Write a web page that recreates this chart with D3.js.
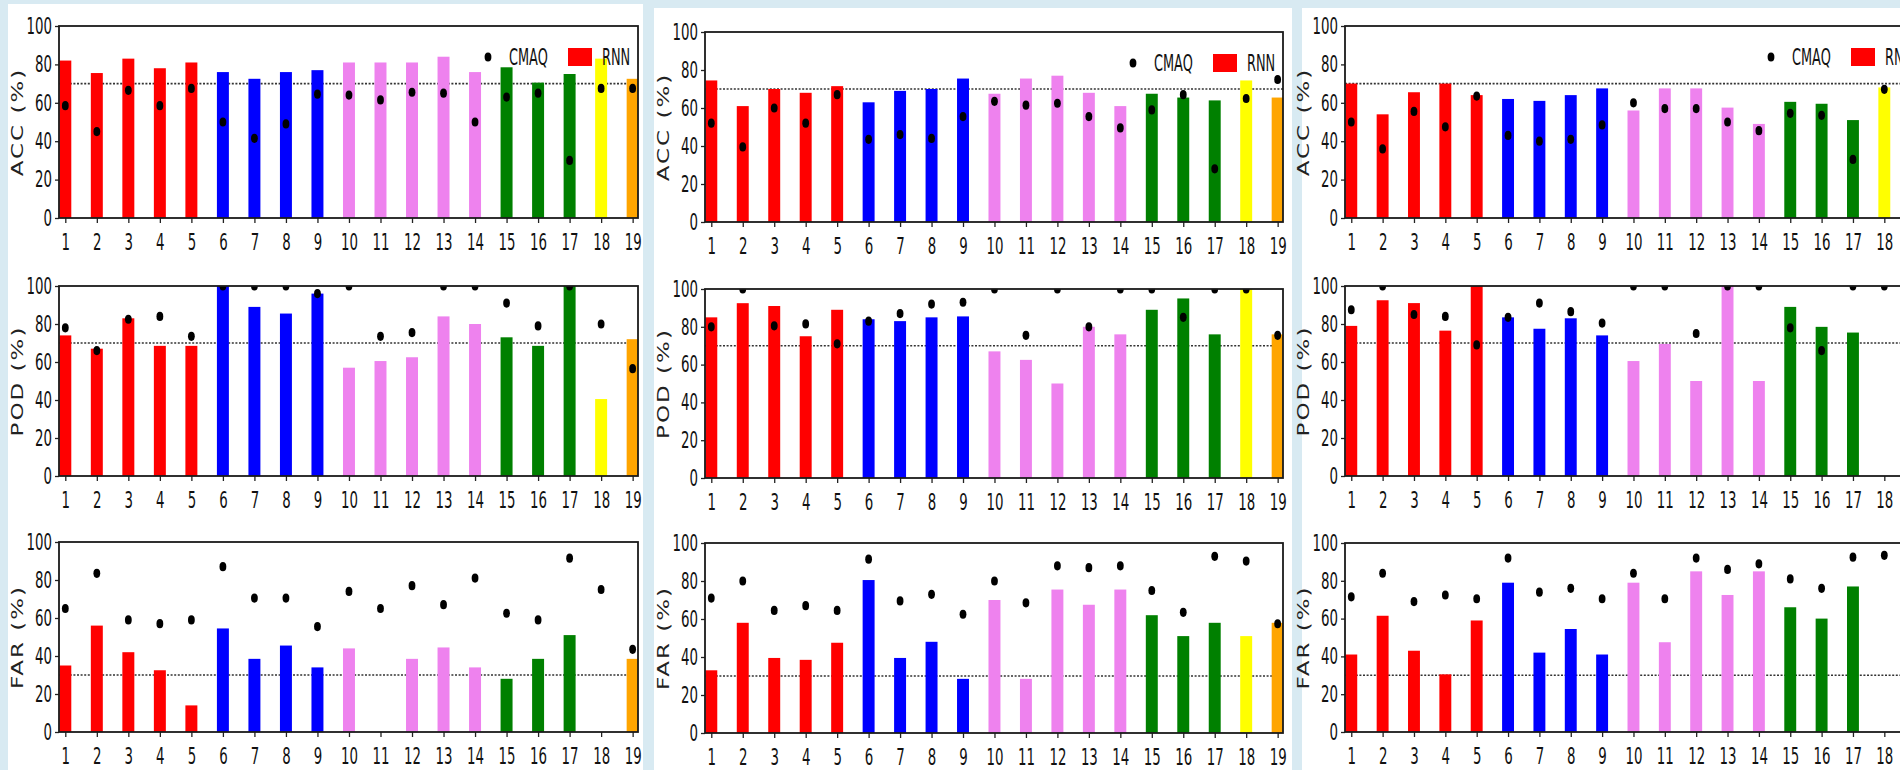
<!DOCTYPE html>
<html><head><meta charset="utf-8">
<script src="https://cdn.jsdelivr.net/npm/d3@7"></script>
<style>
body{margin:0;background:#d8eaf2;}
svg{display:block;font-family:"DejaVu Sans",sans-serif;}
</style>
</head><body>
<svg id="chart" width="1900" height="770"></svg>
<script>
// ---------------- data ----------------
const stations = [1,2,3,4,5,6,7,8,9,10,11,12,13,14,15,16,17,18,19];
const yTicks = [0,20,40,60,80,100];
const barColors = ["#ff0000","#ff0000","#ff0000","#ff0000","#ff0000",
                   "#0000ff","#0000ff","#0000ff","#0000ff",
                   "#ee82ee","#ee82ee","#ee82ee","#ee82ee","#ee82ee",
                   "#008000","#008000","#008000","#ffff00","#ffa500"];
const metricLabels = ["ACC (%)","POD (%)","FAR (%)"];
const thresholds = [70,70,30];
const legendLabels = ["CMAQ","RNN"];

// ACC
const rnnAcc1  = [82,75.5,83,78,81,76,72.5,76,77,81,81,81,84,76,78.5,70.5,75,83,72.5];
const cmaqAcc1 = [58.5,45,66.5,58.5,67.5,50,41.5,49,64.5,64,61.5,65.5,65,50,63,65,30,67.5,67.5];
const rnnAcc2  = [74.5,61,70,68,71.5,63,69,70,75.5,67.5,75.5,77,68,61,67.5,65.5,64,74.5,65.5];
const cmaqAcc2 = [52,39.5,60,52,67,43.5,46,44,55.5,63.5,61.5,62.5,55.5,49.5,59,67,28,65,75];
const rnnAcc3  = [70,54,65.5,70,64,62,61,64,67.5,56,67.5,67.5,57.5,49,60.5,59.5,51,68];
const cmaqAcc3 = [50,36,55.5,47.5,63.5,43,40,41,48.5,60,57,57,50,45.5,54.5,53.5,30.5,67];
// POD
const rnnPod1  = [74,67,83,68.5,68.5,100,89,85.5,96,57,60.5,62.5,84,80,73,68.5,100,40.5,72];
const cmaqPod1 = [78,66,82.5,84,73.5,100,100,100,96,100,73.5,75.5,100,100,91,79,100,80,56.5];
const rnnPod2  = [85,92.5,91,75,89,84,83,85,85.5,67,62.5,50,80,76,89,95,76,100,76];
const cmaqPod2 = [80,100,80.5,81.5,71,83,87,92,93,100,75.5,100,80,100,100,85,100,100,75.5];
const rnnPod3  = [79,92.5,91,76.5,100,83.5,77.5,83,74,60.5,69.5,50,100,50,89,78.5,75.5,0];
const cmaqPod3 = [87.5,100,85,84,69,83.5,91,86.5,80.5,100,100,75,100,100,78,66,100,100];
// FAR
const rnnFar1  = [35,56,42,32.5,14,54.5,38.5,45.5,34,44,0,38.5,44.5,34,28,38.5,51,0,38.5];
const cmaqFar1 = [65,83.5,59,57,59,87,70.5,70.5,55.5,74,65,77,67,81,62.5,59,91.5,75,43.5];
const rnnFar2  = [33,58,39.5,38.5,47.5,80.5,39.5,48,28.5,70,28.5,75.5,67.5,75.5,62,51,58,51,58];
const cmaqFar2 = [71,80,64.5,67,64.5,91.5,69.5,73,62.5,80,68.5,88,87,88,75,63.5,93,90.5,57.5];
const rnnFar3  = [41,61.5,43,30.5,59,79,42,54.5,41,79,47.5,85,72.5,85,66,60,77,0];
const cmaqFar3 = [71.5,84,69,72.5,70.5,92,74,76,70.5,84,70.5,92,86,89,81,76,92.5,93.5];

const rnnSeries  = [[rnnAcc1,rnnAcc2,rnnAcc3],[rnnPod1,rnnPod2,rnnPod3],[rnnFar1,rnnFar2,rnnFar3]];
const cmaqSeries = [[cmaqAcc1,cmaqAcc2,cmaqAcc3],[cmaqPod1,cmaqPod2,cmaqPod3],[cmaqFar1,cmaqFar2,cmaqFar3]];

// ---------------- layout ----------------
const svg = d3.select("#chart");
const colX = [{l:59,r:638},{l:705,r:1283},{l:1345,r:1921}];
const rowY = [
  [[26,218],[286,476],[542,732]],
  [[32,222],[289,478],[543,733]],
  [[26,218],[286,476],[543,732]]
];
const whitePanels = [{x:8,y:4,w:635},{x:654,y:8,w:638},{x:1302,y:8,w:598}];

svg.append("rect").attr("width",1900).attr("height",770).attr("fill","#d8eaf2");
whitePanels.forEach(p=>{
  svg.append("rect").attr("x",p.x).attr("y",p.y).attr("width",p.w).attr("height",770-p.y).attr("fill","#ffffff");
});

const defs = svg.append("defs");
const halfW = 0.19;
const tickSX = 0.58;

for (let c=0;c<3;c++){
  for (let r=0;r<3;r++){
    const L=colX[c].l, R=colX[c].r, T=rowY[c][r][0], B=rowY[c][r][1];
    const x = d3.scaleLinear().domain([0.8,19.17]).range([L,R]);
    const y = d3.scaleLinear().domain([0,100]).range([B,T]);
    const rnn = rnnSeries[r][c], cmaq = cmaqSeries[r][c];
    const id = `clip${c}${r}`;
    defs.append("clipPath").attr("id",id).append("rect")
      .attr("x",L).attr("y",T).attr("width",R-L).attr("height",B-T);
    const g = svg.append("g");
    const pg = g.append("g").attr("clip-path",`url(#${id})`);

    // threshold dotted line
    pg.append("line").attr("x1",L).attr("x2",R)
      .attr("y1",y(thresholds[r])).attr("y2",y(thresholds[r]))
      .attr("stroke","#333").attr("stroke-width",1.6).attr("stroke-dasharray","2,1.6");

    // bars
    pg.selectAll("rect.bar").data(rnn).join("rect").attr("class","bar")
      .attr("x",(d,i)=>x(stations[i]-halfW))
      .attr("width",(d,i)=>x(stations[i]+halfW)-x(stations[i]-halfW))
      .attr("y",d=>y(d)).attr("height",d=>y(0)-y(d))
      .attr("fill",(d,i)=>barColors[i]);

    // dots
    pg.selectAll("ellipse.dot").data(cmaq).join("ellipse").attr("class","dot")
      .attr("cx",(d,i)=>x(stations[i])).attr("cy",d=>y(d))
      .attr("rx",3.4).attr("ry",4.6).attr("fill","#000");

    // axes
    const ax = g.append("g").attr("transform",`translate(0,${B})`)
      .call(d3.axisBottom(x).tickValues(stations).tickFormat(d=>d).tickSize(5).tickPadding(11));
    const ay = g.append("g").attr("transform",`translate(${L},0)`)
      .call(d3.axisLeft(y).tickValues(yTicks).tickSize(4).tickPadding(8));
    [ax,ay].forEach(a=>{
      a.select(".domain").remove();
      a.selectAll("line").attr("stroke","#222").attr("stroke-width",1.3);
      a.selectAll("text").attr("font-size",23).attr("fill","#111")
        .attr("font-family","DejaVu Sans, sans-serif");
    });
    ay.selectAll("text").attr("transform",`scale(${tickSX},1)`);
    ax.selectAll("text").attr("transform",`scale(${tickSX},1)`);

    // frame
    g.append("rect").attr("x",L).attr("y",T).attr("width",R-L).attr("height",B-T)
      .attr("fill","none").attr("stroke","#1a1a1a").attr("stroke-width",1.8);

    // y label
    g.append("text")
      .attr("transform",`translate(${L-42},${(T+B)/2}) scale(0.72,1) rotate(-90)`)
      .attr("text-anchor","middle").attr("dominant-baseline","central")
      .attr("font-size",23).attr("letter-spacing",2).attr("fill","#222")
      .text(metricLabels[r]);

    // legend on top row
    if (r===0){
      const ly = T+31;
      g.append("ellipse").attr("cx",R-150).attr("cy",ly).attr("rx",3.4).attr("ry",4.6).attr("fill","#000");
      g.append("text").attr("transform",`translate(${R-129},${ly+8}) scale(0.56,1)`)
        .attr("font-size",23).attr("fill","#111").text(legendLabels[0]);
      g.append("rect").attr("x",R-70).attr("y",ly-9).attr("width",24).attr("height",18).attr("fill","#ff0000");
      g.append("text").attr("transform",`translate(${R-36},${ly+8}) scale(0.56,1)`)
        .attr("font-size",23).attr("fill","#111").text(legendLabels[1]);
    }
  }
}
</script>
</body></html>
